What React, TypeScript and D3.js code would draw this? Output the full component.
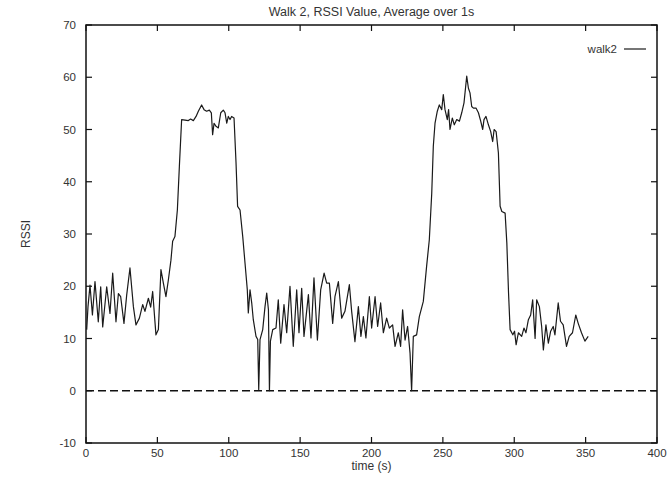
import React from "react";
import * as d3 from "d3";

const title = "Walk 2, RSSI Value, Average over 1s";
const xLabel = "time (s)";
const yLabel = "RSSI";
const seriesName = "walk2";
const xTicks = [0, 50, 100, 150, 200, 250, 300, 350, 400];
const yTicks = [-10, 0, 10, 20, 30, 40, 50, 60, 70];

const times = [
  0.5, 1.4, 2.8, 4.5, 6.3, 8.6, 10.3, 11.7, 14.5, 16.8, 18.7, 21, 22.7, 24.3, 26.6, 28.5, 30.8, 33.2, 35, 37.4,
  39.7, 41.3, 43.7, 45.3, 46.7, 49, 50.7, 52.5, 54.2, 56, 57.7, 59.5, 60.7, 62.3, 64, 65.4, 67, 69.4, 71.7, 73.3,
  75.2, 77.1, 78.7, 81, 82.7, 84.5, 86.4, 87.8, 88.7, 89.7, 91.1, 92.7, 94.4, 96.2, 97.4, 98.6, 99.7, 100.9, 102, 103.7,
  105.1, 106.2, 107.9, 109.8, 111.4, 113, 113.7, 114.9, 116.1, 117.2, 119.1, 120.3, 121, 121.9, 123.8, 125.4, 126.6, 127.8, 128.5, 129.2,
  130.8, 133.1, 134.7, 136.4, 138.7, 140.6, 142.9, 145.2, 147.6, 149.2, 151.1, 152.7, 155.8, 157.6, 159.7, 162.1, 164.4, 166.8, 168.6, 170.5,
  172.8, 174.4, 176.8, 179.1, 181.4, 184.5, 186.1, 188.4, 190.8, 192.6, 194.3, 196.1, 198.5, 200.1, 202.5, 204.3, 206.4, 208.3, 210.6, 212.5,
  214.8, 216.5, 218.8, 220.4, 221.8, 223.5, 225.3, 227, 228.1, 229.3, 231.6, 233.5, 236.3, 238.6, 240.5, 242.2, 243.3, 244.5, 246.1, 247.5,
  249.2, 250.3, 251.5, 253.1, 254, 255, 256.6, 258, 259.7, 261.6, 263.2, 264.8, 266.7, 267.9, 269, 270.2, 271.4, 273.2, 274.9, 276.5,
  277.9, 278.8, 280.2, 281.9, 283.5, 284.9, 285.9, 287.3, 288.9, 290.1, 291.3, 293.6, 294.8, 296, 297.1, 299, 300.2, 301.3, 302.9, 305.2,
  306.8, 308.2, 309.9, 311.5, 312.9, 314.6, 315.7, 317.6, 319.2, 320.4, 322.2, 323.9, 325.5, 327.3, 328.5, 330.8, 332.4, 334.3, 336.6, 338.5,
  340.8, 343.1, 344.8, 347.1, 349.5, 351.8,
];

const rssi = [
  11.7, 16.1, 20.2, 14.5, 20.9, 13.2, 19.9, 12.2, 19.9, 14.8, 22.5, 13.2, 18.6, 18.0, 12.9, 18.3, 23.5, 16.1, 12.6, 13.9,
  16.5, 15.2, 17.7, 16.0, 19.0, 10.7, 11.7, 23.2, 20.6, 18.0, 21.2, 25.0, 28.6, 29.5, 34.6, 42.9, 51.9, 51.8, 51.7, 52.0,
  51.7, 52.5, 53.5, 54.7, 53.8, 53.5, 53.7, 53.2, 49.0, 51.2, 50.6, 50.3, 53.2, 53.7, 53.2, 51.2, 52.5, 51.9, 52.5, 52.2,
  43.6, 35.3, 34.6, 29.5, 24.4, 19.3, 14.9, 19.3, 16.8, 13.6, 10.4, 9.8, 0.2, 9.8, 11.7, 16.1, 18.7, 15.5, 0.0, 9.5,
  11.7, 12.0, 17.4, 9.1, 16.5, 11.1, 20.0, 8.5, 19.3, 11.1, 19.6, 10.4, 18.4, 10.1, 21.6, 9.7, 19.3, 22.5, 20.6, 20.6,
  12.9, 18.0, 20.9, 13.9, 15.2, 20.3, 15.2, 9.4, 16.1, 10.4, 14.2, 10.1, 18.0, 12.0, 18.0, 12.3, 16.8, 11.1, 13.9, 12.0,
  12.6, 8.5, 11.1, 8.5, 15.5, 9.7, 12.3, 7.2, 0.0, 10.4, 10.7, 14.2, 17.1, 23.8, 28.9, 37.8, 46.8, 51.2, 53.5, 54.7,
  53.8, 56.7, 53.8, 51.9, 53.8, 50.0, 52.2, 50.9, 51.9, 51.6, 53.2, 55.1, 60.2, 57.9, 57.0, 54.4, 54.1, 54.1, 53.2, 51.6,
  50.0, 51.9, 52.5, 50.9, 49.6, 47.7, 50.0, 49.6, 45.5, 35.3, 34.3, 34.0, 28.3, 18.7, 11.7, 10.7, 11.4, 8.8, 11.1, 10.4,
  12.0, 11.1, 13.6, 14.5, 17.4, 10.0, 17.4, 16.1, 12.3, 7.8, 12.6, 9.1, 11.4, 12.3, 10.7, 16.8, 13.3, 12.6, 8.5, 10.4,
  11.1, 14.5, 12.9, 11.1, 9.5, 10.4,
];

const W = 671;
const H = 478;
const left = 86;
const right = 657;
const top = 25;
const bottom = 443;
const FONT = "'Liberation Sans', Arial, sans-serif";
const TXT = "#333";

export default function App() {
  const x = d3.scaleLinear().domain([0, 400]).range([left, right]);
  const y = d3.scaleLinear().domain([-10, 70]).range([bottom, top]);
  const pts: [number, number][] = times.map((t, i) => [t, rssi[i]]);
  const line = d3
    .line<[number, number]>()
    .x((d) => x(d[0]))
    .y((d) => y(d[1]));
  const tl = 6;
  return (
    <svg
      width={W}
      height={H}
      style={{ position: "absolute", left: 0, top: 0, background: "#fff" }}
      fontFamily={FONT}
    >
      <rect x={0} y={0} width={W} height={H} fill="#fff" />
      <text x={(left + right) / 2} y={16} textAnchor="middle" fontSize={12.5} fill={TXT}>
        {title}
      </text>
      <line
        x1={left}
        x2={right}
        y1={y(0)}
        y2={y(0)}
        stroke="#111"
        strokeWidth={1.3}
        strokeDasharray="8,4"
      />
      {xTicks.map((t) => (
        <g key={"x" + t}>
          <line x1={x(t)} x2={x(t)} y1={bottom} y2={bottom - tl} stroke="#111" strokeWidth={1.2} />
          <line x1={x(t)} x2={x(t)} y1={top} y2={top + tl} stroke="#111" strokeWidth={1.2} />
          <text x={x(t)} y={bottom + 14} textAnchor="middle" fontSize={11.5} fill={TXT}>
            {t}
          </text>
        </g>
      ))}
      {yTicks.map((v) => (
        <g key={"y" + v}>
          <line x1={left} x2={left + tl} y1={y(v)} y2={y(v)} stroke="#111" strokeWidth={1.2} />
          <line x1={right} x2={right - tl} y1={y(v)} y2={y(v)} stroke="#111" strokeWidth={1.2} />
          <text x={left - 10} y={y(v) + 4} textAnchor="end" fontSize={11.5} fill={TXT}>
            {v}
          </text>
        </g>
      ))}
      <text x={(left + right) / 2} y={470} textAnchor="middle" fontSize={12} fill={TXT}>
        {xLabel}
      </text>
      <text
        transform={`translate(30,${(top + bottom) / 2}) rotate(-90)`}
        textAnchor="middle"
        fontSize={12}
        fill={TXT}
      >
        {yLabel}
      </text>
      <path d={line(pts) || ""} fill="none" stroke="#1a1a1a" strokeWidth={1.2} strokeLinejoin="round" />
      <text x={617} y={53} textAnchor="end" fontSize={11.5} fill={TXT}>
        {seriesName}
      </text>
      <line x1={624} x2={646} y1={49} y2={49} stroke="#1a1a1a" strokeWidth={1.2} />
      <rect x={left} y={top} width={right - left} height={bottom - top} fill="none" stroke="#111" strokeWidth={1.5} />
    </svg>
  );
}
